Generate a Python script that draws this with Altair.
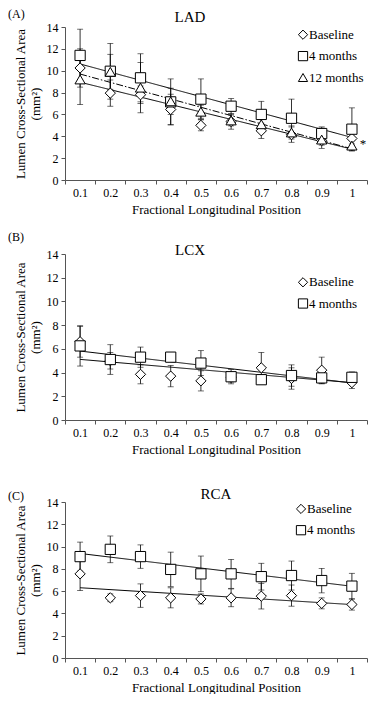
import altair as alt
import numpy as np
import pandas as pd

FONT = "Liberation Serif"

positions = ["0.1", "0.2", "0.3", "0.4", "0.5", "0.6", "0.7", "0.8", "0.9", "1"]
pos_num = [0.1, 0.2, 0.3, 0.4, 0.5, 0.6, 0.7, 0.8, 0.9, 1.0]
y_ticks = [0, 2, 4, 6, 8, 10, 12, 14]

series_names = ["Baseline", "4 months", "12 months"]
series_shapes = ["diamond", "square", "triangle-up"]

# LAD
lad_baseline = [10.25, 7.95, 7.8, 6.45, 5.0, 5.35, 4.5, 4.15, 3.6, 3.8]
lad_baseline_err = [1.75, 1.2, 0.8, 1.4, 0.5, 0.7, 0.7, 0.7, 0.7, 0.5]
lad_4m = [11.4, 9.95, 9.35, 7.15, 7.4, 6.75, 6.0, 5.65, 4.25, 4.65]
lad_4m_err = [2.4, 2.55, 2.2, 2.1, 1.85, 0.7, 1.2, 1.75, 0.6, 1.95]
lad_12m = [9.2, 9.9, 8.45, 7.2, 6.25, 5.45, 5.1, 4.35, 3.7, 3.15]
lad_12m_err = [2.3, 1.6, 2.3, 1.2, 0.6, 0.5, 0.6, 0.6, 0.5, 0.5]
lad_star_pos = "1"
lad_star_value = 3.6

# LCX
lcx_baseline = [6.6, 5.0, 3.85, 3.7, 3.3, 3.6, 4.4, 3.5, 4.2, 3.15]
lcx_baseline_err = [1.3, 0.7, 0.8, 0.9, 0.85, 0.4, 1.3, 0.9, 1.1, 0.5]
lcx_4m = [6.25, 5.1, 5.3, 5.3, 4.8, 3.65, 3.4, 3.75, 3.55, 3.6]
lcx_4m_err = [1.7, 1.25, 0.85, 0.3, 1.05, 0.6, 0.3, 0.9, 0.5, 0.45]

# RCA
rca_baseline = [7.55, 5.4, 5.6, 5.4, 5.3, 5.4, 5.55, 5.6, 4.9, 4.8]
rca_baseline_err = [1.5, 0.35, 1.05, 0.9, 0.45, 0.8, 1.15, 0.95, 0.5, 0.5]
rca_4m = [9.1, 9.75, 9.1, 7.95, 7.55, 7.55, 7.3, 7.4, 6.95, 6.45]
rca_4m_err = [1.3, 1.2, 1.05, 1.55, 1.6, 1.3, 1.2, 1.3, 1.1, 1.15]

W = 302


def panel(title, letter, series, height, title_x, title_y, letter_y,
          legend_x, legend_y0, legend_step, star=None):
    names = [s[0] for s in series]
    shapes = [series_shapes[series_names.index(n)] for n in names]
    rows, fit_rows = [], []
    for name, vals, errs in series:
        for p, v, e in zip(positions, vals, errs):
            rows.append({"pos": p, "series": name, "mean": v, "lo": v - e, "hi": v + e})
        slope, icpt = np.polyfit(pos_num, vals, 1)
        for p, xn in [(positions[0], pos_num[0]), (positions[-1], pos_num[-1])]:
            fit_rows.append({"pos": p, "trend": name, "fit": slope * xn + icpt})
    df = pd.DataFrame(rows)
    fit = pd.DataFrame(fit_rows)

    xenc = alt.X(
        "pos:N", sort=positions,
        scale=alt.Scale(type="band", paddingInner=0, paddingOuter=0),
        axis=alt.Axis(title="Fractional Longitudinal Position", labelAngle=0,
                      tickBand="extent", titlePadding=5),
    )
    yaxis = alt.Axis(values=y_ticks, title=["Lumen Cross-Sectional Area", "(mm²)"],
                     titlePadding=4)
    yscale = alt.Scale(domain=[0, 14], nice=False)

    def ych(field):
        return alt.Y(field, scale=yscale, axis=yaxis)

    base = alt.Chart(df)
    rules = base.mark_rule(color="black", strokeWidth=0.8).encode(
        x=xenc, y=ych("lo:Q"), y2="hi:Q")
    caps_lo = base.mark_tick(color="black", size=6, thickness=0.8, orient="horizontal").encode(
        x=xenc, y=ych("lo:Q"))
    caps_hi = base.mark_tick(color="black", size=6, thickness=0.8, orient="horizontal").encode(
        x=xenc, y=ych("hi:Q"))
    dashes = {"Baseline": [1, 0], "4 months": [1, 0], "12 months": [7, 2, 1.5, 2]}
    lines = alt.Chart(fit).mark_line(color="black", strokeWidth=1).encode(
        x=xenc, y=ych("fit:Q"),
        detail="trend:N",
        strokeDash=alt.StrokeDash("trend:N",
                                  scale=alt.Scale(domain=names, range=[dashes[n] for n in names]),
                                  legend=None),
    )
    points = base.mark_point(fill="white", stroke="black", strokeWidth=1, opacity=1,
                             size=105).encode(
        x=xenc, y=ych("mean:Q"),
        shape=alt.Shape("series:N", scale=alt.Scale(domain=names, range=shapes), legend=None),
    )
    layers = [rules, caps_lo, caps_hi, lines, points]
    if star is not None:
        sdf = pd.DataFrame([{"pos": star[0], "v": star[1]}])
        layers.append(alt.Chart(sdf).mark_text(text="*", font=FONT, fontSize=13, dx=11, dy=3,
                                               color="black").encode(x=xenc, y=ych("v:Q")))
    # in-plot legend (symbol + label per series)
    for i, (n, shp) in enumerate(zip(names, shapes)):
        ly = legend_y0 + i * legend_step
        ldf_i = pd.DataFrame([{"name": n}])
        layers.append(alt.Chart(ldf_i).mark_point(shape=shp, fill="white", stroke="black",
                                                  strokeWidth=1, opacity=1, size=85).encode(
            x=alt.value(legend_x), y=alt.value(ly)))
        layers.append(alt.Chart(ldf_i).mark_text(font=FONT, fontSize=13, align="left",
                                                 baseline="middle", color="black").encode(
            text="name:N", x=alt.value(legend_x + 6), y=alt.value(ly)))
    ldf = pd.DataFrame([{"label": letter, "title": title}])
    layers.append(alt.Chart(ldf).mark_text(font=FONT, fontSize=12, align="left",
                                           baseline="middle", color="black").encode(
        text="label:N", x=alt.value(-57), y=alt.value(letter_y)))
    layers.append(alt.Chart(ldf).mark_text(font=FONT, fontSize=15, align="center",
                                           baseline="middle", color="black").encode(
        text="title:N", x=alt.value(title_x), y=alt.value(title_y)))
    return alt.layer(*layers).resolve_scale(shape="independent").properties(
        width=W, height=height)


pA = panel("LAD", "(A)",
           [("Baseline", lad_baseline, lad_baseline_err),
            ("4 months", lad_4m, lad_4m_err),
            ("12 months", lad_12m, lad_12m_err)],
           height=153, title_x=125, title_y=-10, letter_y=-13,
           legend_x=238, legend_y0=7.7, legend_step=21.4,
           star=(lad_star_pos, lad_star_value))
pB = panel("LCX", "(B)",
           [("Baseline", lcx_baseline, lcx_baseline_err),
            ("4 months", lcx_4m, lcx_4m_err)],
           height=166, title_x=125, title_y=-4, letter_y=-17,
           legend_x=238, legend_y0=28.3, legend_step=21.2)
pC = panel("RCA", "(C)",
           [("Baseline", rca_baseline, rca_baseline_err),
            ("4 months", rca_4m, rca_4m_err)],
           height=156, title_x=151, title_y=-8, letter_y=-6,
           legend_x=236, legend_y0=6.9, legend_step=21.3)

top = alt.vconcat(pA, pB, spacing=15)
chart = alt.vconcat(top, pC, spacing=31).properties(
    padding={"left": 0, "top": 0, "right": 0, "bottom": 0}
).configure(font=FONT).configure_view(stroke=None).configure_axis(
    labelFont=FONT, titleFont=FONT, labelFontSize=12, titleFontSize=13,
    labelColor="black", titleColor="black", titleFontWeight="normal",
    domainColor="#555", tickColor="#555", grid=False, tickSize=4, labelPadding=3,
)

chart.save("out.html", embed_options={"renderer": "svg", "actions": False})
